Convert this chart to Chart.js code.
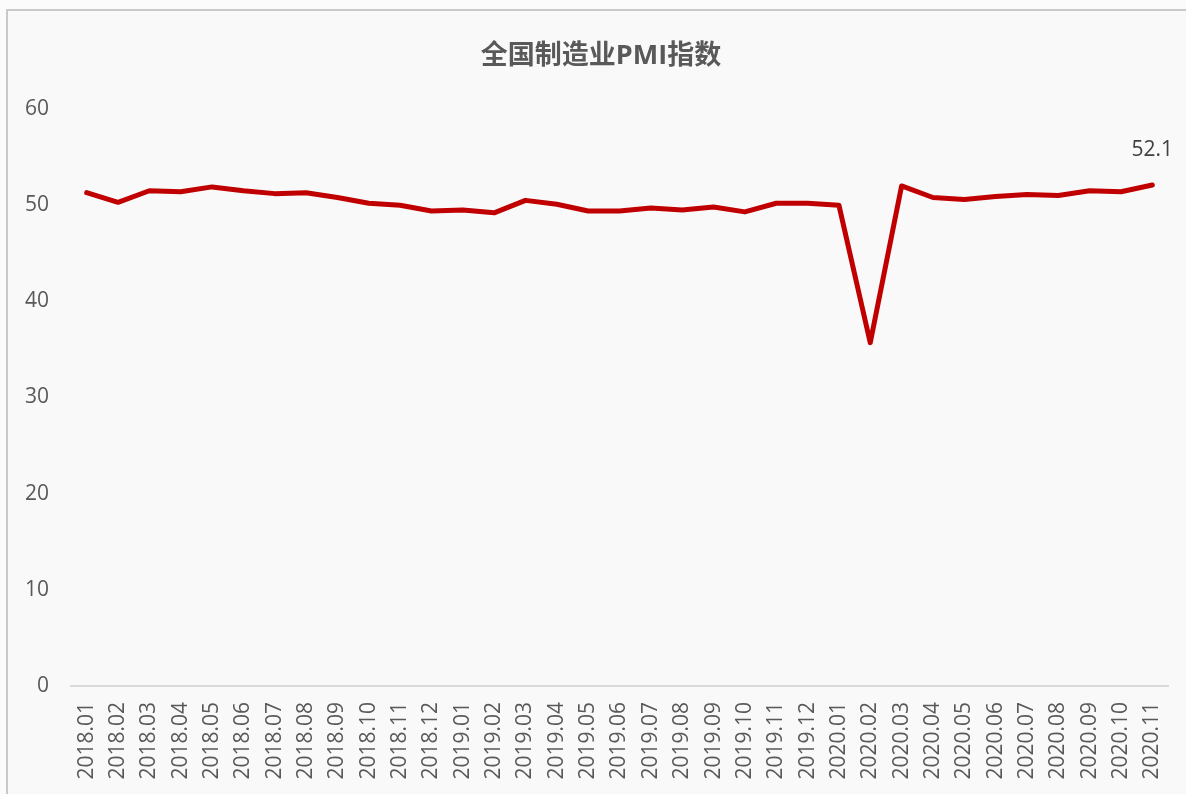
<!DOCTYPE html>
<html><head><meta charset="utf-8">
<script src="https://cdn.jsdelivr.net/npm/chart.js@4"></script>
<style>
html,body{margin:0;padding:0;background:#fbfbfb;width:1186px;height:794px;overflow:hidden;}
#frame{position:absolute;left:6px;top:9px;width:1200px;height:820px;border:2px solid #c9c9c9;background:#f9f9f9;}
#wrap{position:absolute;left:0;top:0;width:1186px;height:794px;}
</style></head>
<body>
<div id="frame"></div>
<div id="wrap"><canvas id="c" width="1186" height="794" aria-label="全国制造业PMI指数"></canvas></div>
<script>
const categories = ["2018.01","2018.02","2018.03","2018.04","2018.05","2018.06","2018.07","2018.08","2018.09","2018.10","2018.11","2018.12",
"2019.01","2019.02","2019.03","2019.04","2019.05","2019.06","2019.07","2019.08","2019.09","2019.10","2019.11","2019.12",
"2020.01","2020.02","2020.03","2020.04","2020.05","2020.06","2020.07","2020.08","2020.09","2020.10","2020.11"];
const pmiValues = [51.3,50.3,51.5,51.4,51.9,51.5,51.2,51.3,50.8,50.2,50.0,49.4,
49.5,49.2,50.5,50.1,49.4,49.4,49.7,49.5,49.8,49.3,50.2,50.2,
50.0,35.7,52.0,50.8,50.6,50.9,51.1,51.0,51.5,51.4,52.1];
const titleText = "全国制造业PMI指数";
const seriesName = "制造业PMI";

const FONT = "'Open Sans','Noto Sans CJK SC',sans-serif";

const titleAndLabel = {
  id:'titleAndLabel',
  afterDraw(chart){
    const ctx = chart.ctx;
    ctx.save();
    ctx.font = "bold 27px " + FONT;
    ctx.fillStyle = "#595959";
    ctx.textAlign = "center";
    ctx.textBaseline = "middle";
    ctx.fillText(titleText, 601, 56);
    const meta = chart.getDatasetMeta(0);
    const i = meta.data.length-1;
    const pt = meta.data[i];
    ctx.font = "21px " + FONT;
    ctx.fillStyle = "#404040";
    ctx.fillText(pmiValues[i].toFixed(1), pt.x, pt.y - 35);
    ctx.restore();
  }
};

new Chart(document.getElementById('c'), {
  type:'line',
  data:{labels:categories, datasets:[{label:seriesName, data:pmiValues, borderColor:'#c00000', backgroundColor:'#c00000', borderWidth:5, pointRadius:0, tension:0, borderJoinStyle:'round', borderCapStyle:'round'}]},
  options:{
    responsive:false, animation:false, devicePixelRatio:1,
    layout:{padding:{left:0,right:18,top:109,bottom:0}},
    plugins:{
      legend:{display:false},
      tooltip:{enabled:false},
      title:{display:false}
    },
    scales:{
      x:{
        offset:true,
        grid:{display:false, drawTicks:false},
        border:{display:true, color:'#d9d9d9', width:2},
        ticks:{color:'#595959', font:{family:FONT, size:21}, minRotation:90, maxRotation:90, padding:16, autoSkip:false},
        afterFit(s){ s.height = 108; s.paddingLeft = 0; s.paddingRight = 0; }
      },
      y:{
        min:0, max:60,
        grid:{display:false, drawTicks:false},
        border:{display:false},
        ticks:{stepSize:10, color:'#595959', font:{family:FONT, size:21}, padding:22},
        afterFit(s){ s.width = 71; s.paddingTop = 0; s.paddingBottom = 0; }
      }
    }
  },
  plugins:[titleAndLabel]
});
</script>
</body></html>
